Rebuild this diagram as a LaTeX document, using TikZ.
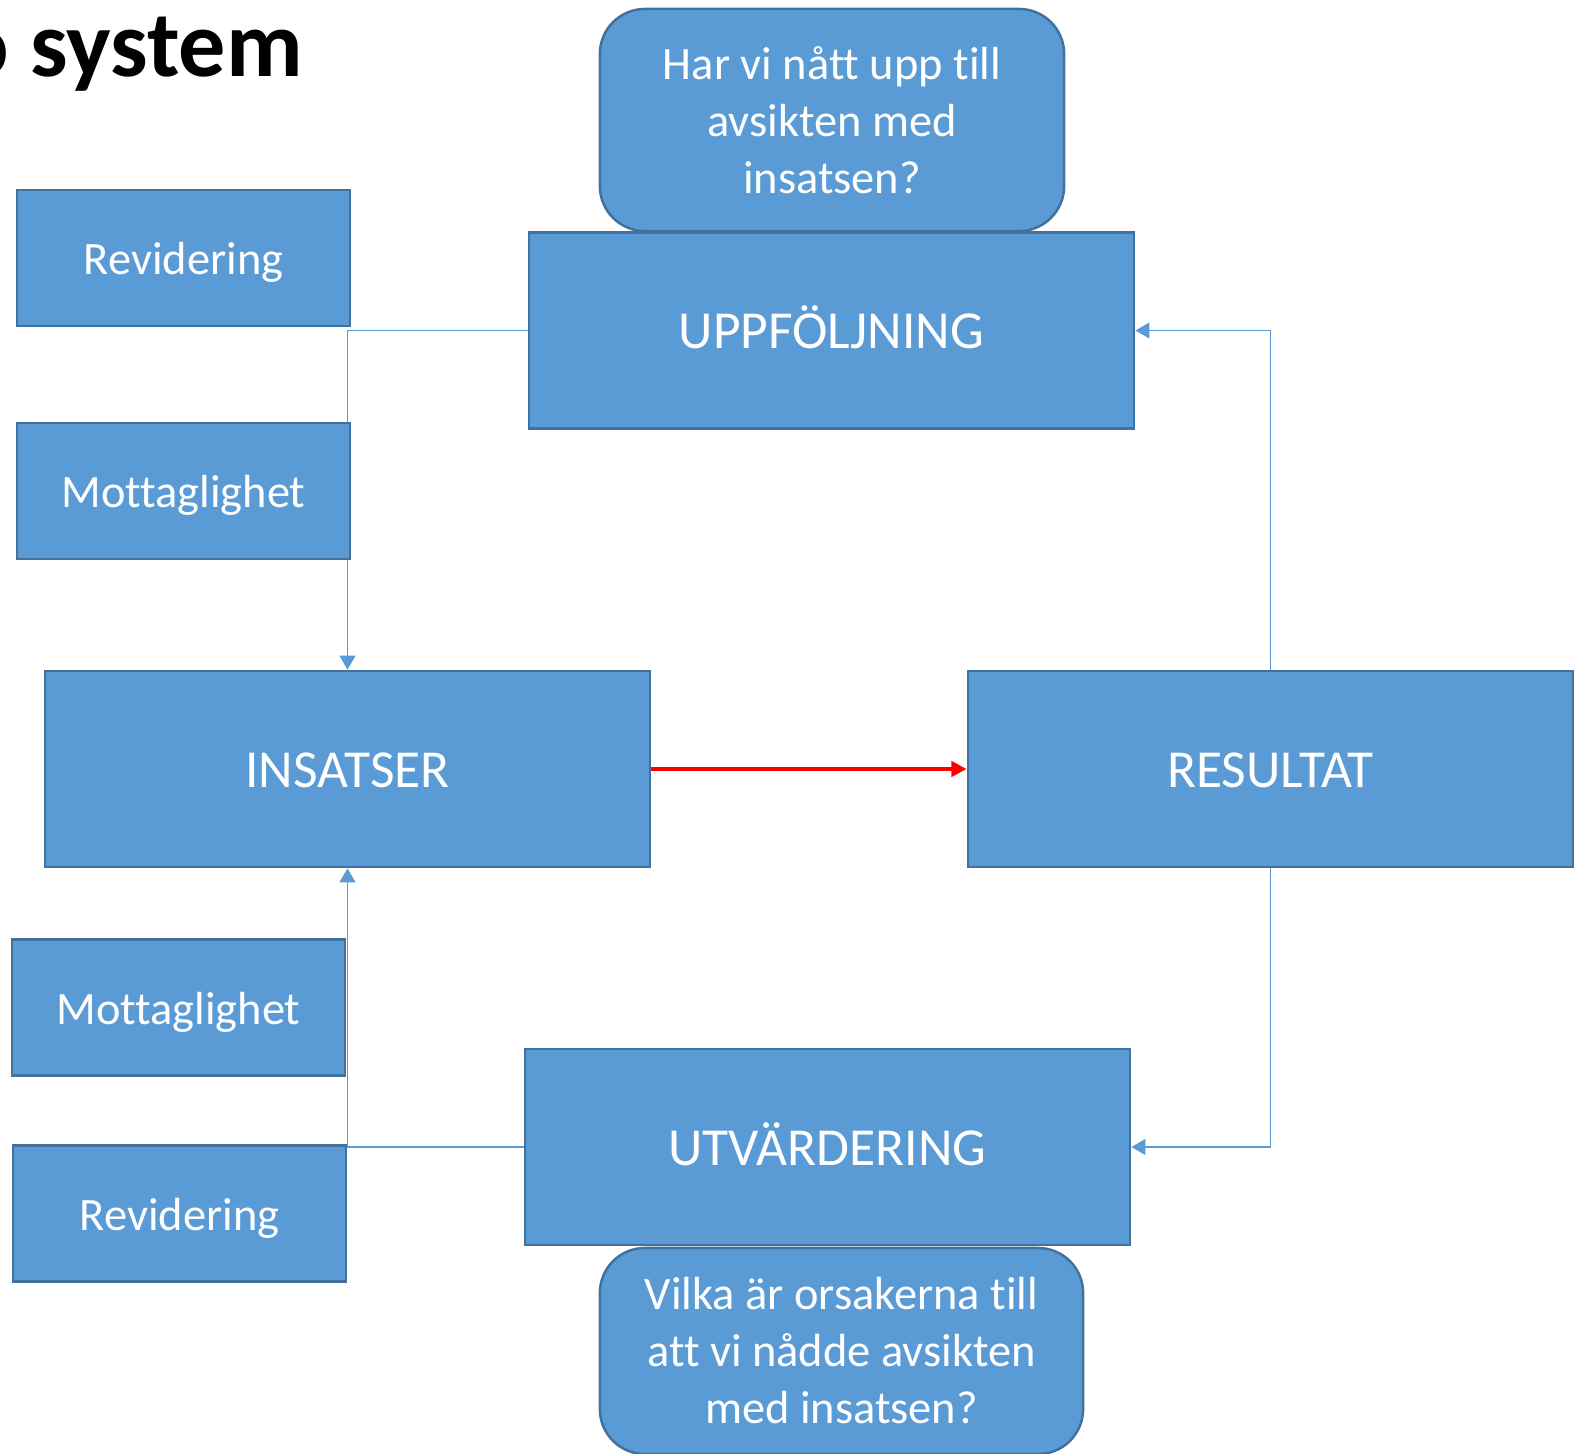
\documentclass[tikz,border=0pt]{standalone}
\usepackage{fontspec}
\setmainfont{Carlito}[Ligatures=NoCommon]
\usetikzlibrary{arrows.meta}
\definecolor{boxblue}{HTML}{5B9BD5}
\definecolor{boxedge}{HTML}{41719C}
\begin{document}
\begin{tikzpicture}[x=0.01cm,y=-0.01cm,
    box/.style={draw=boxedge,line width=0.7pt,fill=boxblue,text=white,inner sep=0pt},
    bigbox/.style={box,minimum width=6.05cm,minimum height=1.96cm,text height=10.4pt,text depth=0pt,font=\fontsize{15.2}{18}\selectfont},
    sidebox/.style={box,minimum width=3.33cm,minimum height=1.36cm,text height=9.6pt,text depth=0pt,font=\fontsize{13.2}{16.2}\selectfont},
    askbox/.style={box,rounded corners=0.45cm,align=center,font=\fontsize{13.2}{16.2}\selectfont},
    link/.style={draw=boxblue,line width=0.45pt,-{Triangle[length=4pt,width=4.5pt]}}]
    \useasboundingbox (0,0) rectangle (1578,1454);
    \node[anchor=base east,font=\fontsize{26.8}{30}\selectfont\bfseries] (title) at (315,76) {o system};
    \node[askbox,minimum width=4.64cm,minimum height=2.22cm] (askup) at (832,120) {Har vi nått upp till\\avsikten med\\insatsen?};
    \node[askbox,minimum width=4.83cm,minimum height=2.06cm] (askdown) at (841.5,1351) {Vilka är orsakerna till\\att vi nådde avsikten\\med insatsen?};
    \node[bigbox] (uppf) at (831.5,330.5) {UPPFÖLJNING};
    \node[bigbox] (ins) at (347.5,769) {INSATSER};
    \node[bigbox] (res) at (1270.5,769) {RESULTAT};
    \node[bigbox] (utv) at (827.5,1147) {UTVÄRDERING};
    \draw[link] (uppf.west) -| (ins.north);
    \draw[link] (utv.west) -| (ins.south);
    \draw[link] (res.north) |- (uppf.east);
    \draw[link] (res.south) |- (utv.east);
    \draw[draw=red,line width=1.1pt,-{Triangle[length=4.3pt,width=4.3pt]}] (ins) -- (res);
    \node[sidebox] (rev1) at (183.5,258) {Revidering};
    \node[sidebox] (mot1) at (183.5,491) {Mottaglighet};
    \node[sidebox] (mot2) at (178.5,1007.5) {Mottaglighet};
    \node[sidebox] (rev2) at (179.5,1213.5) {Revidering};
\end{tikzpicture}
\end{document}
